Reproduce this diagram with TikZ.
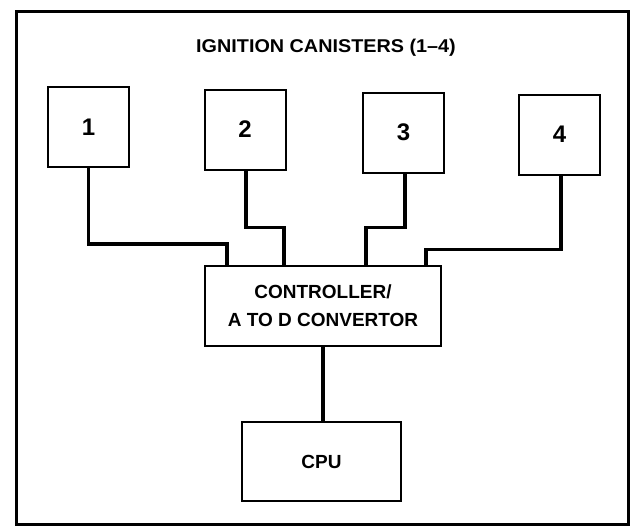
\documentclass[tikz,border=0pt]{standalone}
\usepackage{fontspec}
\setmainfont{Liberation Sans}
\newfontfamily\widesans[FakeStretch=1.07]{Liberation Sans}
\usepackage{tikz}
\usetikzlibrary{calc}

\begin{document}
\begin{tikzpicture}[x=1pt,y=-1pt,
			frm/.style={draw=black,line width=3pt},
			can/.style={draw=black,line width=2pt,minimum width=81pt,minimum height=80pt,inner sep=0pt,font=\fontsize{24}{24}\selectfont\bfseries},
			blk/.style={draw=black,line width=2pt,inner sep=0pt,align=center,font=\fontsize{19}{28}\selectfont\bfseries},
			wire/.style={draw=black,line width=3.6pt},
			ttl/.style={inner sep=0pt,font=\widesans\fontsize{18.5}{18.5}\selectfont\bfseries}]
			\useasboundingbox (0,0) rectangle (632,531);
			\draw[frm] (16,11) rectangle (628,524);
			\node[ttl] (title) at (326,48) {IGNITION CANISTERS (1–4)};
			%% canisters
			\node[can] (c1) at (88.5,127) {1};
			\node[can] (c2) at (245,129.5) {2};
			\node[can] (c3) at (403.5,132.5) {3};
			\node[can] (c4) at (559.5,134.5) {4};
			%% controller and cpu
			\node[blk,minimum width=236pt,minimum height=80pt] (ctl) at (323,305.5) {CONTROLLER/\\A TO D CONVERTOR};
			\node[blk,minimum width=159pt,minimum height=79pt] (cpu) at (321.5,461.5) {CPU};
			%% wiring
			\draw[wire] (c1.south) -- ++(0,76) -| ([xshift=23pt]ctl.north west);
			\draw[wire] ([xshift=1pt]c2.south) -- ++(0,57) -| ([xshift=80pt]ctl.north west);
			\draw[wire] ([xshift=1.5pt]c3.south) -- ++(0,54) -| ([xshift=-76pt]ctl.north east);
			\draw[wire] ([xshift=1.5pt]c4.south) -- ++(0,74) -| ([xshift=-16pt]ctl.north east);
			\draw[wire] (ctl.south) -- (ctl.south |- cpu.north);
		\end{tikzpicture}
\end{document}
